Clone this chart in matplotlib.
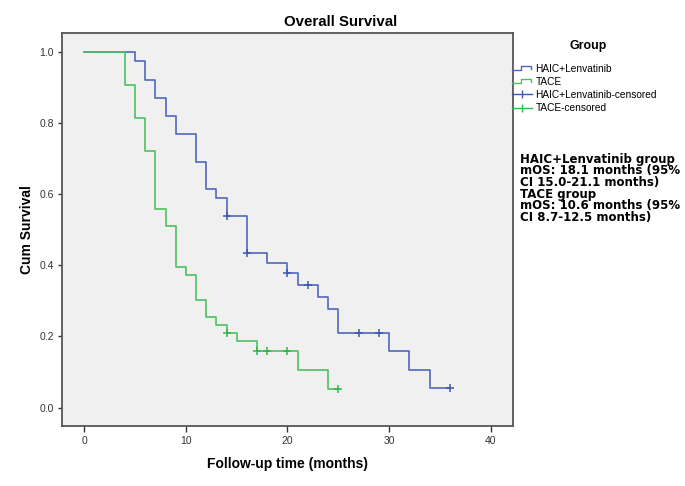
import numpy as np
import matplotlib
matplotlib.use("Agg")
import matplotlib.pyplot as plt
from matplotlib.lines import Line2D
from matplotlib.legend_handler import HandlerBase

plt.rcParams['font.family'] = ['Liberation Sans', 'DejaVu Sans']

# ---- data ----
haic_t = [0, 5, 6, 7, 8, 9, 11, 12, 13, 14, 16, 18, 20, 21, 23, 24, 25, 30, 32, 34, 36]
haic_s = [1.0, 0.974, 0.923, 0.872, 0.821, 0.769, 0.692, 0.615, 0.590, 0.538,
          0.434, 0.406, 0.378, 0.346, 0.311, 0.277, 0.209, 0.158, 0.107, 0.056, 0.056]
haic_cens_t = [14, 16, 20, 22, 27, 29, 36]
haic_cens_s = [0.538, 0.434, 0.378, 0.346, 0.209, 0.209, 0.056]

tace_t = [0, 4, 5, 6, 7, 8, 9, 10, 11, 12, 13, 14, 15, 17, 21, 24, 25]
tace_s = [1.0, 0.907, 0.814, 0.721, 0.558, 0.512, 0.395, 0.372, 0.302, 0.256,
          0.233, 0.209, 0.186, 0.159, 0.106, 0.053, 0.053]
tace_cens_t = [14, 17, 18, 20, 25]
tace_cens_s = [0.209, 0.159, 0.159, 0.159, 0.053]

x_ticks = [0, 10, 20, 30, 40]
y_ticks = [0.0, 0.2, 0.4, 0.6, 0.8, 1.0]

group_labels = ["HAIC+Lenvatinib", "TACE",
                "HAIC+Lenvatinib-censored", "TACE-censored"]
note_lines = ["HAIC+Lenvatinib group",
              "mOS: 18.1 months (95%",
              "CI 15.0-21.1 months)",
              "TACE group",
              "mOS: 10.6 months (95%",
              "CI 8.7-12.5 months)"]

# ---- style ----
BLUE = '#5067bd'
GREEN = '#4cc25f'
BLUE_C = '#3E58AC'
GREEN_C = '#2EB848'
FRAME = '#555555'

W, H = 685, 486
fig = plt.figure(figsize=(W / 100, H / 100), dpi=100)
ax = fig.add_axes([62 / W, 1 - 426 / H, (513 - 62) / W, (426 - 33) / H])
ax.set_facecolor('#f0f0f0')

ax.step(haic_t, haic_s, where='post', color=BLUE, lw=1.2, zorder=3)
ax.step(tace_t, tace_s, where='post', color=GREEN, lw=1.2, zorder=4)
ax.plot(haic_cens_t, haic_cens_s, ls='none', marker='+', ms=5.5, mew=1.1,
        color=BLUE_C, zorder=5)
ax.plot(tace_cens_t, tace_cens_s, ls='none', marker='+', ms=5.5, mew=1.1,
        color=GREEN_C, zorder=6)

ax.set_xlim(-2.2, 42.2)
ax.set_ylim(-0.052, 1.054)
ax.set_xticks(x_ticks)
ax.set_xticklabels([str(v) for v in x_ticks])
ax.set_yticks(y_ticks)
ax.set_yticklabels([f"{v:.1f}" for v in y_ticks])
ax.tick_params(axis='x', direction='out', length=4, width=1.0, color='#333333',
               labelsize=7.5, labelcolor='#333333', pad=3)
ax.tick_params(axis='y', direction='out', length=3, width=1.0, color='#333333',
               labelsize=7.5, labelcolor='#333333', pad=3)
for sp in ax.spines.values():
    sp.set_color(FRAME)
    sp.set_linewidth(1.3)

ax.set_xlabel("Follow-up time (months)", fontsize=10, fontweight='bold', labelpad=8)
ax.set_ylabel("Cum Survival", fontsize=10, fontweight='bold', labelpad=3.5)
fig.text(341 / W, 1 - 22 / H, "Overall Survival", fontsize=10.8, fontweight='bold',
         ha='center', va='center')


# ---- legend ----
class StepHandler(HandlerBase):
    def create_artists(self, legend, orig_handle, xdescent, ydescent, width,
                       height, fontsize, trans):
        x0, y0 = -xdescent, -ydescent
        xs = x0 + width * np.array([0.0, 0.45, 0.45, 0.95, 0.95])
        ys = y0 + height * np.array([0.2, 0.2, 0.75, 0.75, 0.35])
        ln = Line2D(xs, ys, color=orig_handle.get_color(), lw=1.0)
        ln.set_transform(trans)
        return [ln]


h1 = Line2D([], [], color=BLUE, lw=1.0)
h2 = Line2D([], [], color=GREEN, lw=1.0)
h3 = Line2D([], [], color=BLUE_C, lw=1.0, marker='|', ms=6, mew=1.0)
h4 = Line2D([], [], color=GREEN_C, lw=1.0, marker='|', ms=6, mew=1.0)
leg = fig.legend([h1, h2, h3, h4], group_labels, loc='upper left',
                 bbox_to_anchor=(512 / W, 1 - 63.5 / H), borderaxespad=0,
                 borderpad=0, frameon=False, fontsize=7.3, handlelength=2.0,
                 handletextpad=0.3, labelspacing=0.32, numpoints=1,
                 handler_map={h1: StepHandler(), h2: StepHandler()})
fig.text(588 / W, 1 - 46 / H, "Group", fontsize=8.9, fontweight='bold',
         ha='center', va='center')

# ---- annotation ----
fig.text(520 / W, 1 - 152.5 / H, "\n".join(note_lines), fontsize=8.5,
         family=['DejaVu Sans'], fontweight='bold', ha='left', va='top',
         linespacing=0.87)

fig.savefig("out.png", dpi=100)
